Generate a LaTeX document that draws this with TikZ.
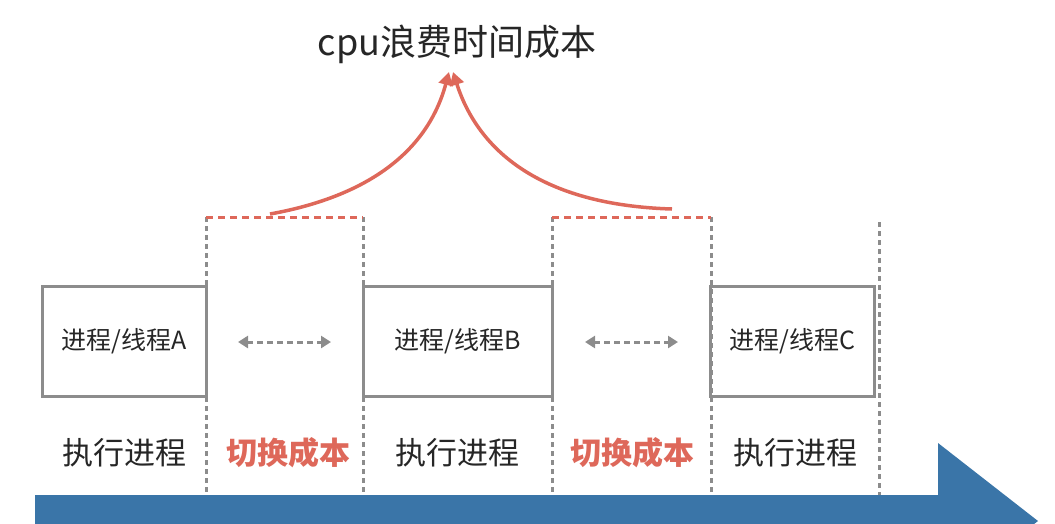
\documentclass[tikz,border=0pt]{standalone}
\usepackage{fontspec}
\setmainfont{Noto Sans CJK SC}
\usetikzlibrary{arrows.meta}
\definecolor{redc}{RGB}{222,104,90}
\definecolor{grayc}{RGB}{140,140,140}
\definecolor{bluec}{RGB}{58,117,168}
\tikzset{
  vdash/.style={grayc, line width=3pt, dash pattern=on 5pt off 4pt},
  rdash/.style={redc, line width=3pt, dash pattern=on 7pt off 5pt},
  procbox/.style={draw=grayc, line width=3pt, minimum height=110pt, inner sep=0pt,
     font=\fontsize{25}{29}\selectfont, text=black!85},
  lbl/.style={font=\fontsize{31}{35}\selectfont, text=black!85, inner sep=0pt},
  costlbl/.style={font=\bfseries\fontsize{31}{35}\selectfont, text=redc, inner sep=0pt},
  curvearrow/.style={redc, line width=3.5pt, -{Triangle[length=13pt,width=14pt]}},
  swap/.style={grayc, line width=3pt, dash pattern=on 6pt off 4pt,
     {Triangle[length=10pt,width=12pt]}-{Triangle[length=10pt,width=12pt]}}
}
\begin{document}
\begin{tikzpicture}[x=1pt,y=-1pt]
\useasboundingbox (0,0) rectangle (1055,523);
% blue time arrow
\begin{scope}
\clip (0,0) rectangle (1055,523);
\fill[bluec] (35,495) -- (938,495) -- (938,443) -- (1038,521) -- (938,599) -- (938,547) -- (35,547) -- cycle;
\end{scope}
% dashed guide lines
\coordinate (ta) at (206,217); \coordinate (ba) at (206,495);
\coordinate (tb) at (363,217); \coordinate (bb) at (363,495);
\coordinate (tc) at (552,217); \coordinate (bc) at (552,495);
\coordinate (td) at (711,217); \coordinate (bd) at (711,495);
\coordinate (te) at (879,222); \coordinate (be) at (879,495);
\draw[vdash] (ta) -- (ba);
\draw[vdash] (tb) -- (bb);
\draw[vdash] (tc) -- (bc);
\draw[vdash] (td) -- (bd);
\draw[vdash] (te) -- (be);
\draw[rdash] (ta) -- (tb);
\draw[rdash] (tc) -- (td);
% process boxes
\node[procbox, minimum width=164pt] (A) at (124,341) {进程/线程A};
\node[procbox, minimum width=189pt] (B) at (457.5,341) {进程/线程B};
\node[procbox, minimum width=164pt] (C) at (792.5,341) {进程/线程C};
% swap arrows
\coordinate (s1l) at (238,342); \coordinate (s1r) at (331,342);
\coordinate (s2l) at (585,342); \coordinate (s2r) at (678,342);
\draw[swap] (s1l) -- (s1r);
\draw[swap] (s2l) -- (s2r);
% bottom labels
\node[lbl] (e1) at (124,453) {执行进程};
\node[costlbl] (k1) at (288,453) {切换成本};
\node[lbl] (e2) at (457,453) {执行进程};
\node[costlbl] (k2) at (632,453) {切换成本};
\node[lbl] (e3) at (795,453) {执行进程};
% title and curved arrows
\node[font=\fontsize{36}{40}\selectfont, text=black!85, inner sep=0pt] (T) at (457,44) {cpu浪费时间成本};
\coordinate (cl) at (270,214);
\coordinate (cr) at (672,209);
\coordinate (tl) at (449,72);
\coordinate (tr) at (453,72);
\draw[curvearrow] (cl) .. controls (370,196) and (428,150) .. (tl);
\draw[curvearrow] (cr) .. controls (540,205) and (478,150) .. (tr);
\end{tikzpicture}
\end{document}
